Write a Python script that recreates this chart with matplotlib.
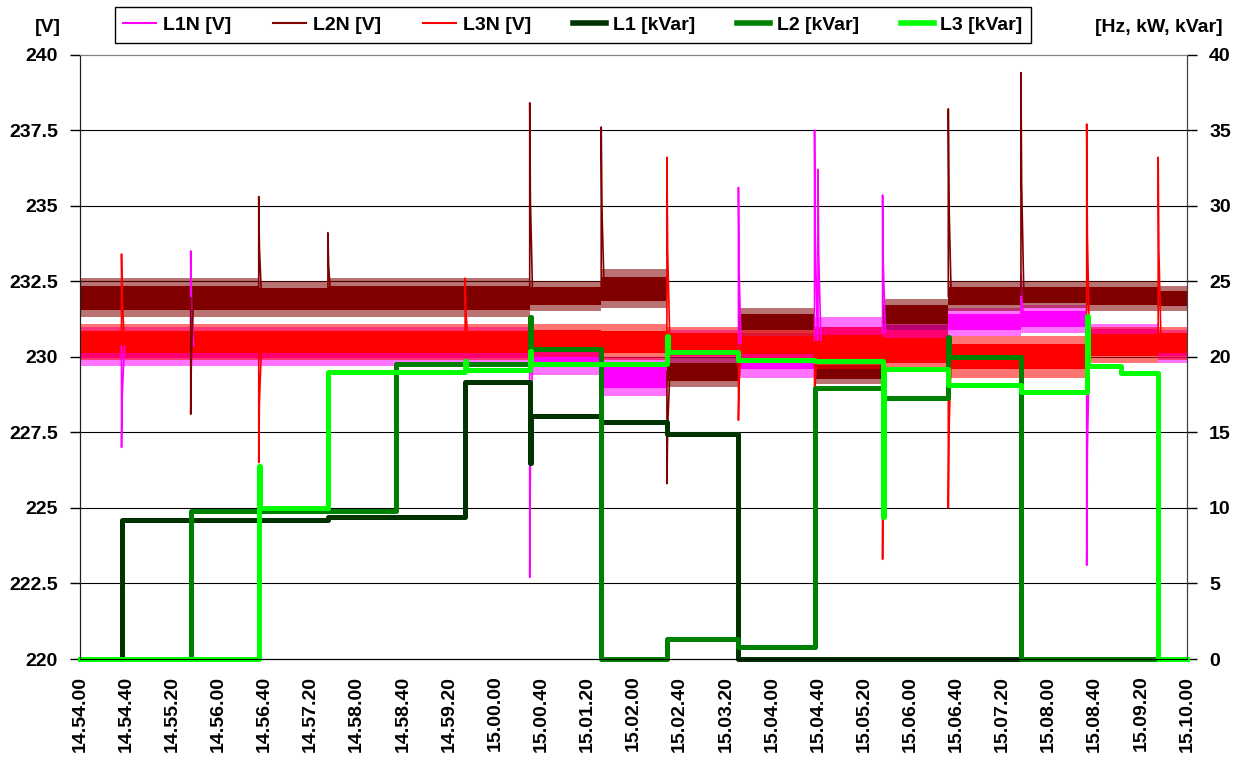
import matplotlib
matplotlib.use("Agg")
import matplotlib.pyplot as plt
import numpy as np

plt.rcParams['font.family'] = ['Liberation Sans', 'DejaVu Sans']
plt.rcParams['font.weight'] = 'bold'
plt.rcParams['font.size'] = 14

# time in seconds after 14.54.00
tick_sec = list(range(0, 961, 40))
tick_labels = ['14.54.00', '14.54.40', '14.55.20', '14.56.00', '14.56.40', '14.57.20',
               '14.58.00', '14.58.40', '14.59.20', '15.00.00', '15.00.40', '15.01.20',
               '15.02.00', '15.02.40', '15.03.20', '15.04.00', '15.04.40', '15.05.20',
               '15.06.00', '15.06.40', '15.07.20', '15.08.00', '15.08.40', '15.09.20',
               '15.10.00']

# voltage: noise band (low / high) per segment, segments start at seg_t
seg_t = [0, 36, 96, 155, 215, 274, 334, 390, 452, 509, 571, 637, 696, 753, 816, 873, 935, 960]

l1n_lo = [229.7, 229.7, 229.7, 229.7, 229.7, 229.7, 229.7, 229.4, 228.7, 229.8, 229.3, 229.8, 230.4, 230.7, 230.8, 230.2, 229.8]
l1n_hi = [231.0, 231.0, 231.0, 231.0, 231.0, 231.0, 231.0, 230.9, 230.0, 230.9, 230.8, 231.3, 231.2, 231.6, 231.7, 231.1, 230.9]
l2n_lo = [231.3, 231.3, 231.3, 231.3, 231.3, 231.3, 231.3, 231.5, 231.6, 229.0, 230.7, 229.1, 230.9, 231.5, 231.6, 231.5, 231.5]
l2n_hi = [232.6, 232.6, 232.6, 232.5, 232.6, 232.6, 232.6, 232.5, 232.9, 230.0, 231.6, 229.9, 231.9, 232.5, 232.5, 232.5, 232.35]
l3n_lo = [229.9, 229.9, 229.9, 229.9, 229.9, 229.9, 229.9, 230.0, 229.9, 230.0, 229.9, 229.6, 229.5, 229.3, 229.3, 229.8, 229.9]
l3n_hi = [231.1, 231.1, 231.1, 231.1, 231.1, 231.1, 231.1, 231.1, 231.1, 231.0, 230.9, 231.0, 230.9, 230.7, 230.7, 231.0, 231.0]

# voltage spikes at switching moments: (second, peak value)
l1n_spikes = [(36, 227.0), (96, 233.5), (390, 222.7), (571, 235.6), (637, 237.5),
              (640, 236.2), (696, 235.35), (816, 232.7), (873, 223.1)]
l2n_spikes = [(96, 228.1), (155, 235.3), (215, 234.1), (390, 238.4), (452, 237.6),
              (509, 225.8), (753, 238.2), (816, 239.4)]
l3n_spikes = [(36, 233.4), (155, 226.5), (334, 232.6), (509, 236.6), (571, 227.9),
              (637, 228.0), (696, 223.3), (753, 225.0), (873, 237.7), (935, 236.6)]

# reactive power steps
l1_t = [0, 36, 215, 334, 390, 391, 452, 509, 571, 960]
l1_q = [0, 9.2, 9.4, 18.3, 13.0, 16.1, 15.7, 14.9, 0, 0]
l2_t = [0, 96, 274, 390, 391, 452, 509, 571, 637, 696, 753, 754, 816, 960]
l2_q = [0, 9.8, 19.5, 22.6, 20.5, 0, 1.3, 0.8, 17.9, 17.3, 21.3, 20.0, 0, 0]
l3_t = [0, 155, 156, 215, 334, 335, 390, 391, 509, 510, 571, 637, 696, 697, 753, 816, 873, 874, 903, 935, 960]
l3_q = [0, 12.8, 10.0, 19.0, 19.7, 19.1, 20.4, 19.5, 21.4, 20.3, 19.8, 19.7, 9.4, 19.2, 18.1, 17.7, 22.7, 19.4, 18.9, 0, 0]

fig = plt.figure(figsize=(12.37, 7.6), dpi=100)
ax = fig.add_axes([80 / 1237, 1 - 659 / 760, (1187 - 80) / 1237, (659 - 54.5) / 760])


def draw_voltage(lo, hi, spikes, color, label):
    x = np.array(seg_t)
    lo_s = np.append(lo, lo[-1])
    hi_s = np.append(hi, hi[-1])
    # outer, sparse part of the noise
    ax.fill_between(x, lo_s, hi_s, step='post', color=color, alpha=0.55, linewidth=0)
    # dense core of the noise
    pad = (hi_s - lo_s) * 0.2
    ax.fill_between(x, lo_s + pad, hi_s - pad, step='post', color=color, linewidth=0)
    xs, ys = [], []
    for t, peak in spikes:
        i = np.searchsorted(seg_t, t, side='right') - 1
        i = min(i, len(lo) - 1)
        base = (lo[i] + hi[i]) / 2
        xs += [t, t, t + 0.6, t + 2.5, np.nan]
        ys += [base, peak, (peak + base) / 2, base, np.nan]
    ax.plot(xs, ys, color=color, lw=1.2, label=label)


draw_voltage(l1n_lo, l1n_hi, l1n_spikes, '#ff00ff', 'L1N [V]')
draw_voltage(l2n_lo, l2n_hi, l2n_spikes, '#800000', 'L2N [V]')
draw_voltage(l3n_lo, l3n_hi, l3n_spikes, '#ff0000', 'L3N [V]')

ax.set_xlim(0, 960)
ax.set_ylim(220, 240)
ax.set_yticks([220, 222.5, 225, 227.5, 230, 232.5, 235, 237.5, 240])
ax.set_yticklabels(['220', '222.5', '225', '227.5', '230', '232.5', '235', '237.5', '240'])
ax.set_xticks(tick_sec)
ax.set_xticklabels(tick_labels, rotation=90)
for g in [222.5, 225, 227.5, 230, 232.5, 235, 237.5]:
    ax.axhline(g, color='black', lw=0.8, zorder=0)
ax.tick_params(axis='y', direction='out', length=7, width=1, pad=9)
ax.tick_params(axis='x', length=0, pad=12)

ax2 = ax.twinx()
ax2.plot(l1_t, l1_q, drawstyle='steps-post', color='#003300', lw=3.6, label='L1 [kVar]', clip_on=False)
ax2.plot(l2_t, l2_q, drawstyle='steps-post', color='#008000', lw=3.6, label='L2 [kVar]', clip_on=False)
ax2.plot(l3_t, l3_q, drawstyle='steps-post', color='#00ff00', lw=3.6, label='L3 [kVar]', clip_on=False)
ax2.set_ylim(0, 40)
ax2.set_yticks(range(0, 41, 5))
ax2.tick_params(axis='y', direction='out', length=7, width=1, pad=9)

for a in (ax, ax2):
    a.spines['top'].set_color('#808080')
    a.spines['left'].set_color('#202020')
    a.spines['right'].set_color('#404040')
    a.spines['bottom'].set_color('black')

h1, l1 = ax.get_legend_handles_labels()
h2, l2 = ax2.get_legend_handles_labels()
leg = fig.legend(h1 + h2, l1 + l2, loc='center', ncol=6,
                 bbox_to_anchor=((116 + 1030) / 2 / 1237, 1 - 25 / 760),
                 frameon=True, fancybox=False, edgecolor='black', framealpha=1,
                 handlelength=1.7, handletextpad=0.35, columnspacing=2.15,
                 borderpad=0.45, borderaxespad=0)
for line in leg.get_lines():
    if line.get_linewidth() < 2:
        line.set_linewidth(1.5)
    else:
        line.set_linewidth(4)

fig.text(48 / 1237, 1 - 27 / 760, '[V]', ha='center', va='center')
fig.text(1223 / 1237, 1 - 28 / 760, '[Hz, kW, kVar]', ha='right', va='center')

fig.savefig('out.png', dpi=100)
